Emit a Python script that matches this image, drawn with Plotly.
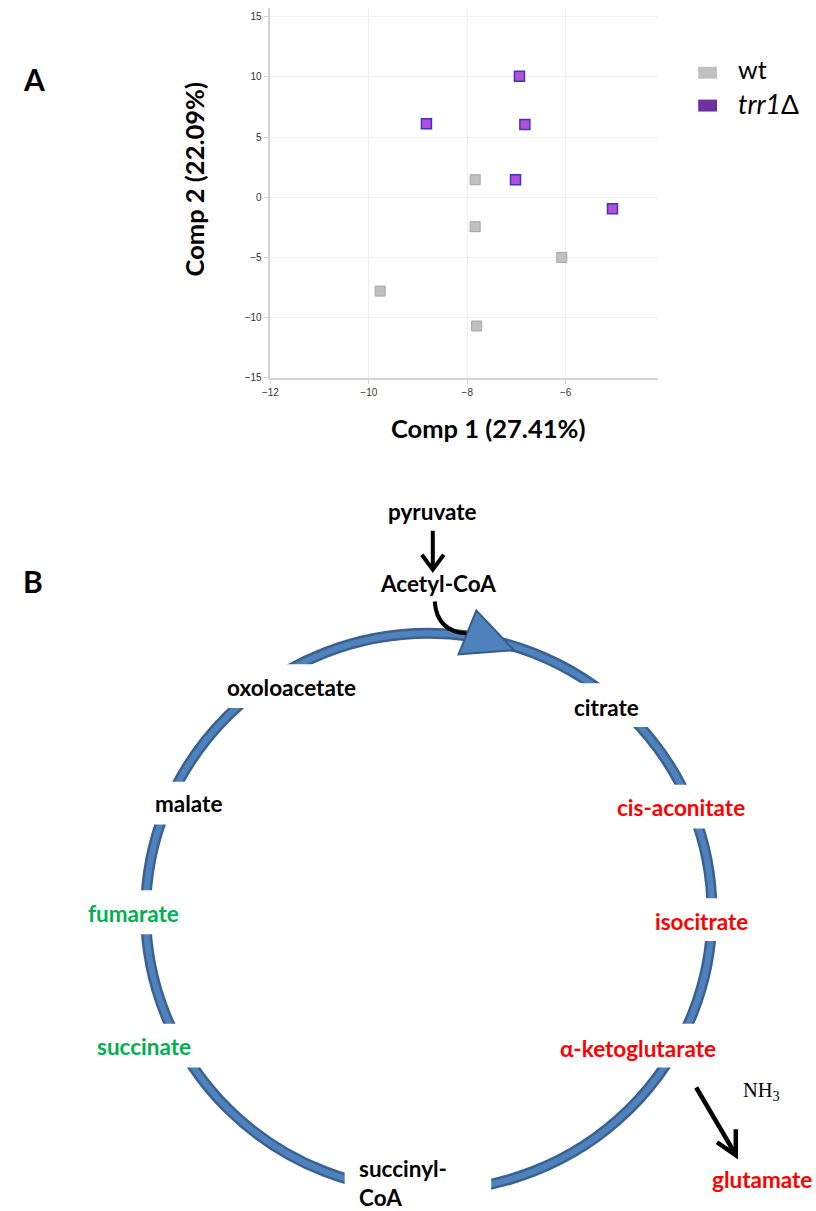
import plotly.graph_objects as go

W, H = 816, 1211

# ---------------- data ----------------
wt_x = [-7.84, -7.84, -6.08, -9.77, -7.81]
wt_y = [1.45, -2.45, -5.0, -7.8, -10.7]
trr_x = [-6.94, -8.83, -6.83, -7.02, -5.05]
trr_y = [10.05, 6.1, 6.05, 1.45, -0.95]
x_ticks = [-12, -10, -8, -6]
y_ticks = [-15, -10, -5, 0, 5, 10, 15]
series_names = ["wt", "<i>trr1</i>Δ"]
x_title = "Comp 1 (27.41%)"
y_title = "Comp 2 (22.09%)"

# TCA cycle labels: (text, colour)
tca_labels = [
    ("oxoloacetate", "black"),
    ("citrate", "black"),
    ("cis-aconitate", "red"),
    ("isocitrate", "red"),
    ("α-ketoglutarate", "red"),
    ("malate", "black"),
    ("fumarate", "#00b050"),
    ("succinate", "#00b050"),
    ("succinyl-<br>CoA", "black"),
]

def px(x):
    return x / W

def py(y):
    return 1 - y / H

FONT = "Lato"
LAB = 22.5
fig = go.Figure()

fig.add_trace(go.Scatter(
    x=wt_x, y=wt_y, mode="markers", name="wt", showlegend=False,
    marker=dict(symbol="square", size=10, color="#c0c0c0",
                line=dict(color="#a3a3a3", width=1)),
))
fig.add_trace(go.Scatter(
    x=trr_x, y=trr_y, mode="markers", name="trr1", showlegend=False,
    marker=dict(symbol="square", size=10, color="#b34fd6",
                line=dict(color="#3b35c8", width=1.5)),
))

axis_common = dict(showgrid=True, gridcolor="#efefef", gridwidth=1,
                   showline=True, linecolor="#d3d3d3", linewidth=1.5,
                   ticks="outside", ticklen=5, tickcolor="#d3d3d3",
                   zeroline=False,
                   tickfont=dict(family="Liberation Sans", size=10, color="#333"))

fig.update_layout(
    width=W, height=H,
    margin=dict(l=0, r=0, t=0, b=0),
    paper_bgcolor="white", plot_bgcolor="white",
    xaxis=dict(domain=[265 / W, 656.7 / W], range=[-12, -4.12],
               tickvals=x_ticks, **axis_common),
    yaxis=dict(domain=[py(379.3), py(8.3)], range=[-15, 15.7],
               tickvals=y_ticks, **axis_common),
)

shapes = []
annots = []

def txt(x, y, text, size=LAB, color="black", bold=True, xanchor="center",
        family=FONT, angle=0, align="center"):
    annots.append(dict(
        x=px(x), y=py(y), xref="paper", yref="paper", text=(f"<b>{text}</b>" if bold else text),
        showarrow=False, xanchor=xanchor, yanchor="middle", textangle=angle, align=align,
        font=dict(family=family, size=size, color=color)))

# panel letters and axis titles
txt(13, 79, "A", size=30, xanchor="left")
txt(13, 583, "B", size=30, xanchor="left")
txt(485, 430, x_title, size=25.5)
txt(188, 180, y_title, size=25.5, angle=-90)

# legend
shapes.append(dict(type="rect", xref="paper", yref="paper",
                   x0=px(697), x1=px(716), y0=py(67), y1=py(79),
                   fillcolor="#c0c0c0", line=dict(width=0)))
shapes.append(dict(type="rect", xref="paper", yref="paper",
                   x0=px(697), x1=px(716), y0=py(100), y1=py(112),
                   fillcolor="#7030a0", line=dict(width=0)))
txt(735, 69, series_names[0], size=25, bold=False, xanchor="left")
txt(735, 104, series_names[1], size=26.5, bold=False, xanchor="left")

# ---------------- TCA diagram ----------------
cx, cy, rx, ry = 425, 916, 286, 280
shapes.append(dict(type="circle", xref="paper", yref="paper",
                   x0=px(cx - rx), x1=px(cx + rx), y0=py(cy + ry), y1=py(cy - ry),
                   line=dict(color="#3a6190", width=11)))
shapes.append(dict(type="circle", xref="paper", yref="paper",
                   x0=px(cx - rx), x1=px(cx + rx), y0=py(cy + ry), y1=py(cy - ry),
                   line=dict(color="#4f81bd", width=6)))

# white label boxes (x0, x1, y0, y1) and text centres
boxes = [
    (195, 370, 667, 711, 286, 690),
    (555, 665, 686, 730, 604, 710),
    (610, 755, 788, 832, 680, 811),
    (640, 760, 902, 945, 700, 925),
    (545, 725, 1028, 1072, 636, 1053),
    (125, 230, 785, 828, 182, 807),
    (70, 185, 894, 938, 127, 917),
    (80, 200, 1028, 1072, 137, 1051),
    (340, 488, 1150, 1211, 398, 1188),
]
for (lab, col), (x0, x1, y0, y1, tx, ty) in zip(tca_labels, boxes):
    shapes.append(dict(type="rect", xref="paper", yref="paper",
                       x0=px(x0), x1=px(x1), y0=py(y1), y1=py(y0),
                       fillcolor="white", line=dict(width=0)))
    if "<br>" in lab:
        txt(352, ty, lab, color=col, xanchor="left", align="left")
    else:
        txt(tx, ty, lab, color=col)

def path(pts, close=False):
    s = "M " + " L ".join(f"{px(x):.5f},{py(y):.5f}" for x, y in pts)
    return s + (" Z" if close else "")

# arrowhead triangle on ring
shapes.append(dict(type="path", xref="paper", yref="paper",
                   path=path([(473, 613), (455, 657), (511, 653)], close=True),
                   fillcolor="#4f81bd", line=dict(color="#385d8a", width=2)))

# pyruvate -> acetyl-CoA arrow
shapes.append(dict(type="path", xref="paper", yref="paper",
                   path=path([(429, 533), (429, 571)]), line=dict(color="black", width=4)))
shapes.append(dict(type="path", xref="paper", yref="paper",
                   path=path([(418, 557), (429, 572), (440, 557)]), line=dict(color="black", width=4)))
# curved arrow into cycle
shapes.append(dict(type="path", xref="paper", yref="paper",
                   path=f"M {px(431):.5f},{py(604):.5f} Q {px(433):.5f},{py(634):.5f} {px(463):.5f},{py(636):.5f}",
                   line=dict(color="black", width=4)))
# alpha-KG -> glutamate arrow
shapes.append(dict(type="path", xref="paper", yref="paper",
                   path=path([(695, 1092), (734, 1158)]), line=dict(color="black", width=4.5)))
shapes.append(dict(type="path", xref="paper", yref="paper",
                   path=path([(716, 1147), (735, 1160), (735, 1134)]), line=dict(color="black", width=4.5)))

txt(429, 514, "pyruvate")
txt(434, 586, "Acetyl-CoA")
txt(761, 1184, "glutamate", color="red")
txt(761, 1096, "NH<sub>3</sub>", size=20.5, bold=False, family="Liberation Serif")

fig.update_layout(shapes=shapes, annotations=annots)
fig.write_html("out.html", config={"displayModeBar": False},
               post_script="document.body.style.margin='0';document.body.style.overflow='hidden';")
